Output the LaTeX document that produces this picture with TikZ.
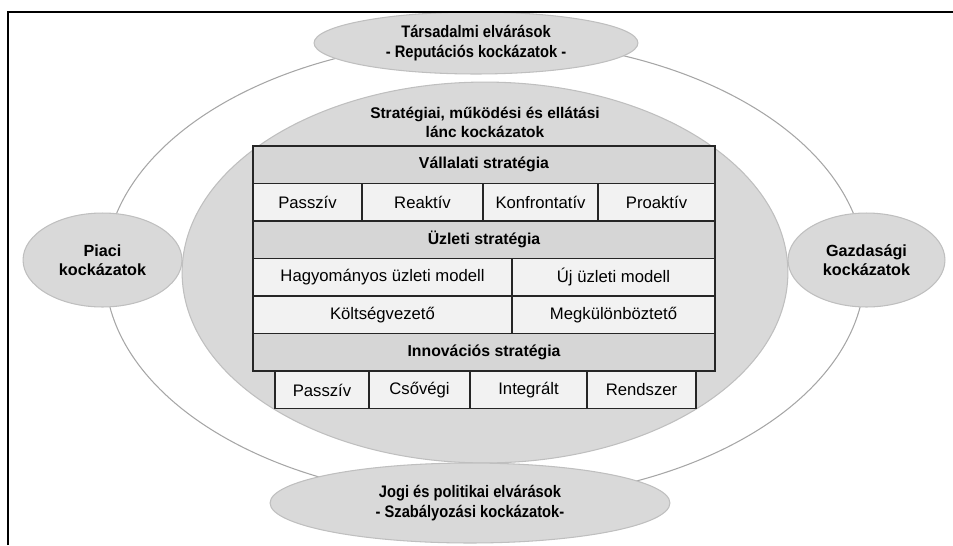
\documentclass[tikz,border=0pt]{standalone}
\usepackage{fontspec}
\setmainfont{Liberation Sans}
\newfontfamily\narrowfont{Liberation Sans}[FakeStretch=0.88]
\usetikzlibrary{shapes}
\definecolor{fillgray}{HTML}{D9D9D9}
\definecolor{edgegray}{HTML}{BFBFBF}
\definecolor{ringgray}{HTML}{A6A6A6}
\definecolor{cellhead}{HTML}{D6D6D6}
\definecolor{cellwhite}{HTML}{F2F2F2}
\definecolor{gridline}{HTML}{262626}

\begin{document}
\begin{tikzpicture}[x=0.02cm,y=-0.02cm,
  blob/.style 2 args={shape=ellipse,draw=edgegray,fill=fillgray,line width=0.6pt,inner sep=0pt,align=center,minimum width=#1*0.04cm,minimum height=#2*0.04cm},
  head/.style={shape=rectangle,draw=gridline,fill=cellhead,line width=0.8pt,inner sep=0pt,font=\bfseries\fontsize{9}{11}\selectfont,minimum width=462*0.02cm,minimum height=37.5*0.02cm},
  sub/.style={shape=rectangle,draw=gridline,fill=cellwhite,line width=0.8pt,inner sep=0pt,font=\fontsize{9.5}{11}\selectfont,minimum width=#1*0.02cm,minimum height=37.5*0.02cm},
  wide/.style={font=\narrowfont\bfseries\fontsize{9.5}{11}\selectfont},
  side/.style={font=\bfseries\fontsize{9.2}{11}\selectfont}]
\useasboundingbox (0,0) rectangle (953,545);

\draw[ringgray,line width=0.6pt] (485,270) ellipse [x radius=380, y radius=230];

\node[blob={303}{190.5}] (0) at (485,272.5) {};
\node[blob={79.5}{47},side] (1) at (102.5,260) {Piaci\\kockázatok};
\node[blob={78.5}{47},side] (2) at (866.5,260) {Gazdasági\\kockázatok};
\begin{scope}
\clip (0,12) rectangle (953,545);
\node[blob={162}{31},wide] (3) at (476,43) {Társadalmi elvárások\\- Reputációs kockázatok -};
\end{scope}
\node[blob={200}{40},wide] (4) at (470,503) {Jogi és politikai elvárások\\- Szabályozási kockázatok-};
\node[align=center,font=\bfseries\fontsize{8.8}{11}\selectfont] (5) at (485,122.5) {Stratégiai, működési és ellátási\\lánc kockázatok};

\node[head] (6) at (484,164.75) {Vállalati stratégia};
\node[sub=109] (7) at (307.5,202.25) {Passzív};
\node[sub=121] (8) at (422.5,202.25) {Reaktív};
\node[sub=115] (9) at (540.5,202.25) {Konfrontatív};
\node[sub=117] (10) at (656.5,202.25) {Proaktív};
\node[head] (11) at (484,239.75) {Üzleti stratégia};
\node[sub=259] (12) at (382.5,277.25) {Hagyományos üzleti modell};
\node[sub=203] (13) at (613.5,277.25) {Új üzleti modell};
\node[sub=259] (14) at (382.5,314.75) {Költségvezető};
\node[sub=203] (15) at (613.5,314.75) {Megkülönböztető};
\node[head] (16) at (484,352.25) {Innovációs stratégia};
\node[sub=94] (17) at (322,390) {Passzív};
\node[sub=101] (18) at (419.5,390) {Csővégi};
\node[sub=117] (19) at (528.5,390) {Integrált};
\node[sub=109] (20) at (641.5,390) {Rendszer};

\draw[black,line width=1.3pt] (8,545) -- (8,12) -- (953,12);
\end{tikzpicture}
\end{document}
